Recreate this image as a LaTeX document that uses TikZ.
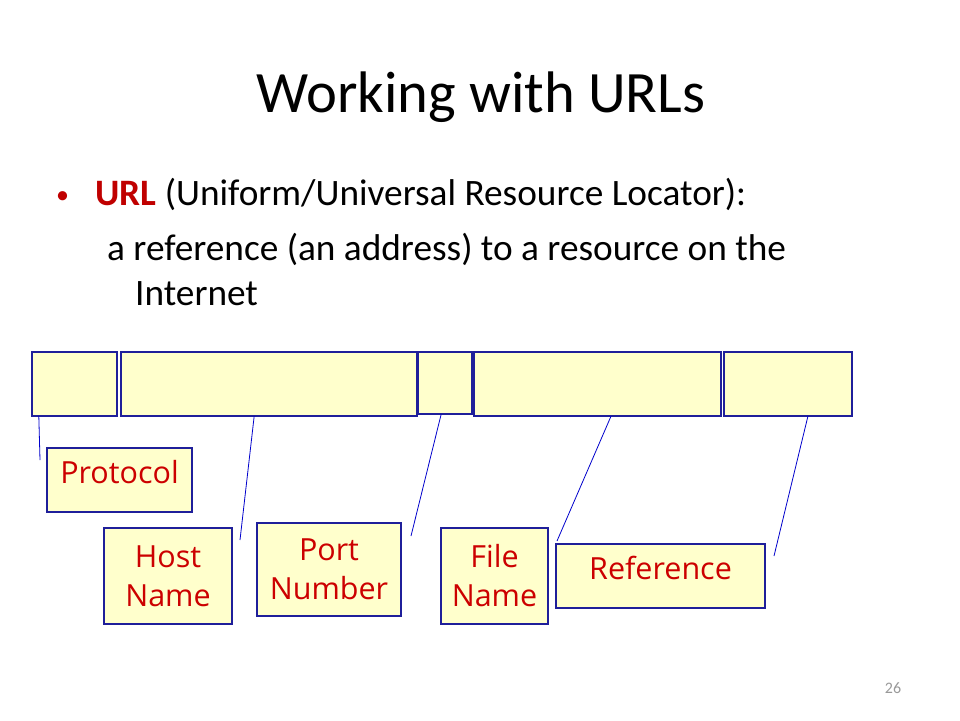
\documentclass[tikz,border=0pt]{standalone}
\usepackage{fontspec}
\setmainfont{Carlito}
\newfontfamily\tagfont{Open Sans}
\usepackage{tikz}
\usetikzlibrary{calc}
\definecolor{lemon}{HTML}{FFFFCC}
\definecolor{navy}{HTML}{1F1F9A}
\definecolor{urlred}{HTML}{C00000}
\definecolor{tagred}{HTML}{CC0000}

\begin{document}
\begin{tikzpicture}[
x = 1pt, y = -1pt,
partrect/.style={rectangle, anchor = north west, inner sep = 0, outer sep = 0,
draw = navy, fill = lemon, line width = 1.2pt},
tagrect/.style={rectangle, anchor = north west, inner sep = 0, outer sep = 0,
align = center, draw = navy, fill = lemon, line width = 1.2pt,
text = tagred, font = \tagfont\fontsize{30.5}{39}\selectfont},
tagline/.style={draw = blue!80!black, line width = 0.8pt},
slidetext/.style={anchor = base west, inner sep = 0, font = \fontsize{37.3}{44}\selectfont}]

\useasboundingbox[fill = white] (0,0) rectangle (960,720);

% title and bullet
\node[anchor = base, inner sep = 0, font = \fontsize{58.6}{64}\selectfont] (title) at (481,112) {Working with URLs};
\node[slidetext, text = urlred, font = \fontsize{26}{30}\selectfont] (dot) at (56,203) {\textbullet};
\node[slidetext] (line1) at (95,205) {\textcolor{urlred}{\textbf{URL}} (Uniform/Universal Resource Locator):};
\node[slidetext] (line2) at (107,260) {a reference (an address) to a resource on the};
\node[slidetext] (line3) at (135,305) {Internet};

% parts of the URL
\node[partrect, minimum width = 85, minimum height = 64] (U1) at (32,352) {};
\node[partrect, minimum width = 296, minimum height = 64] (U2) at (121,352) {};
\node[partrect, minimum width = 54, minimum height = 62] (U3) at (418,352) {};
\node[partrect, minimum width = 247, minimum height = 64] (U4) at (474,352) {};
\node[partrect, minimum width = 128, minimum height = 64] (U5) at (724,352) {};

% labels
\node[tagrect, minimum width = 145, minimum height = 64, text depth = 16] (Pr) at (47,448) {Protocol};
\node[tagrect, minimum width = 128, minimum height = 96] (HN) at (104,528) {Host\\Name};
\node[tagrect, minimum width = 144, minimum height = 93] (PN) at (257,523) {Port\\Number};
\node[tagrect, minimum width = 107, minimum height = 96] (FN) at (441,528) {File\\Name};
\node[tagrect, minimum width = 209, minimum height = 64, text depth = 16] (Ref) at (556,544) {Reference};

\coordinate (e1) at (40,460);
\coordinate (e2) at (240,540);
\coordinate (e3) at (411,536);
\coordinate (e4) at (557,541);
\coordinate (e5) at (774,556);

\draw[tagline] ($(U1.south west)!0.08!(U1.south east)$) -- (e1);
\draw[tagline] ($(U2.south west)!0.45!(U2.south east)$) -- (e2);
\draw[tagline] ($(U3.south west)!0.43!(U3.south east)$) -- (e3);
\draw[tagline] ($(U4.south west)!0.555!(U4.south east)$) -- (e4);
\draw[tagline] ($(U5.south west)!0.656!(U5.south east)$) -- (e5);

\node[inner sep = 0, anchor = base, text = gray!80, font = \fontsize{16}{18}\selectfont] (page) at (893,693) {26};
\end{tikzpicture}
\end{document}
